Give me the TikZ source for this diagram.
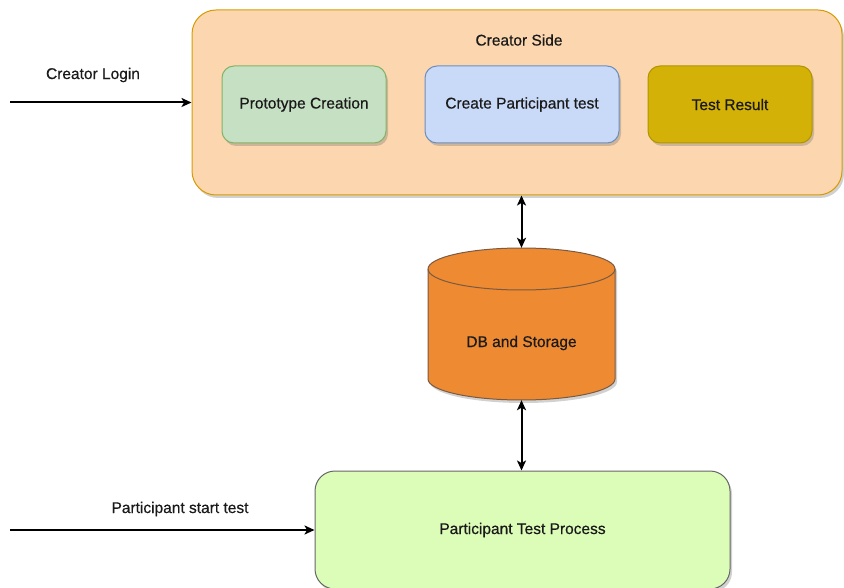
\documentclass[tikz,border=0pt]{standalone}
\usepackage{fontspec}
\setmainfont{Liberation Sans}
\newfontfamily\lblfont[FakeBold=0.5]{Liberation Sans}
\usetikzlibrary{shadows,arrows.meta}
\definecolor{peachfill}{HTML}{FCD6AF}
\definecolor{peachdraw}{HTML}{D79B00}
\definecolor{greenfill}{HTML}{C6E0C3}
\definecolor{greendraw}{HTML}{82B366}
\definecolor{bluefill}{HTML}{C9DAF8}
\definecolor{bluedraw}{HTML}{6C8EBF}
\definecolor{goldfill}{HTML}{D4B106}
\definecolor{golddraw}{HTML}{B09500}
\definecolor{dbfill}{HTML}{EE8A32}
\definecolor{dbdraw}{HTML}{7A5A40}
\definecolor{ptfill}{HTML}{DCFDB8}
\definecolor{ptdraw}{HTML}{666666}
\definecolor{txt}{HTML}{1A1A1A}
\begin{document}
\begin{tikzpicture}[x=1pt,y=-1pt,
  every node/.style={font=\lblfont\fontsize{15.5}{18}\selectfont, text=txt},
  shad/.style={drop shadow={shadow xshift=2pt,shadow yshift=-3pt,opacity=0.3,fill=black!60}},
  box/.style={rectangle, rounded corners=12pt, line width=1pt, shad},
  lbl/.style={inner sep=0pt},
  tip/.tip={Stealth[length=10pt,width=9pt,inset=2.5pt]},
  arr/.style={line width=2pt, -tip},
  darr/.style={line width=2pt, tip-tip}
]
\useasboundingbox (0,0) rectangle (844,588);
\clip (0,0) rectangle (844,588);

% Creator container
\node[box, rounded corners=24pt, draw=peachdraw, fill=peachfill, minimum width=650pt, minimum height=185pt] (creator) at (517,102.5) {};
\node[lbl] (ctitle) at (519,40) {Creator Side};
\node[box, draw=greendraw, fill=greenfill, minimum width=164pt, minimum height=77pt] (proto) at (304,104.5) {Prototype Creation};
\node[box, draw=bluedraw, fill=bluefill, minimum width=194pt, minimum height=77pt] (cpt) at (522,104.5) {Create Participant test};
\node[box, draw=golddraw, fill=goldfill, minimum width=164pt, minimum height=77pt] (tr) at (730,104.5) {Test Result};

% Login
\node[lbl] (login) at (93,75) {Creator Login};
\coordinate (loginstart) at (10,102.5);
\draw[arr] (loginstart) -- (creator.west);

% DB cylinder
\node[minimum width=187pt, minimum height=152pt, inner sep=0pt] (db) at (521.5,324) {};
\fill[black!60, opacity=0.3] (430,272) -- (430,382) arc[start angle=180,end angle=360,x radius=93.5pt,y radius=21pt] -- (617,272) arc[start angle=0,end angle=180,x radius=93.5pt,y radius=21pt] -- cycle;
\draw[fill=dbfill, draw=dbdraw, line width=1pt] (428,269) -- (428,379) arc[start angle=180,end angle=360,x radius=93.5pt,y radius=21pt] -- (615,269) arc[start angle=0,end angle=180,x radius=93.5pt,y radius=21pt] -- cycle;
\draw[draw=dbdraw, line width=1pt] (428,269) arc[start angle=180,end angle=360,x radius=93.5pt,y radius=21pt];
\node[lbl] (dbtext) at (521.5,343) {DB and Storage};

% Participant
\node[box, rounded corners=20pt, draw=ptdraw, fill=ptfill, minimum width=415pt, minimum height=118pt] (pt) at (522.5,530) {Participant Test Process};
\node[lbl] (pstart) at (180,509) {Participant start test};
\coordinate (pstartc) at (10,530);
\draw[arr] (pstartc) -- (pt.west);

% DB connectors
\draw[darr] (db.north |- creator.south) -- (db.north);
\draw[darr] (db.south) -- (db.south |- pt.north);
\end{tikzpicture}
\end{document}
